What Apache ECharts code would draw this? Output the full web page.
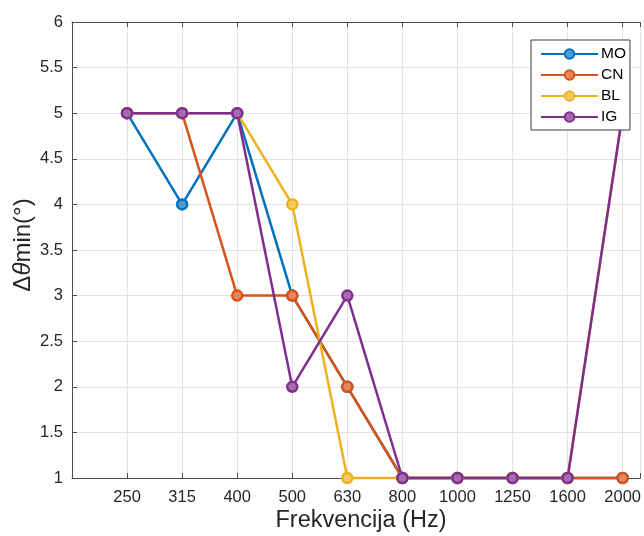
<!DOCTYPE html>
<html><head><meta charset="utf-8">
<script src="https://cdn.jsdelivr.net/npm/echarts@6/dist/echarts.min.js"></script>
<style>html,body{margin:0;padding:0;background:#fff}#c{width:644px;height:536px}</style>
</head><body><div id="c"></div>
<script>
const categories = ['250','315','400','500','630','800','1000','1250','1600','2000'];
const MO = [5,4,5,3,2,1,1,1,1,1];
const CN = [5,5,3,3,2,1,1,1,1,1];
const BL = [5,5,5,4,1,1,1,1,1,5];
const IG = [5,5,5,2,3,1,1,1,1,5];
const seriesNames = ['MO','CN','BL','IG'];
const seriesColors = ['#0072BD','#D95319','#EDB120','#7E2F8E'];
const seriesData = [MO,CN,BL,IG];

function tint(hex, f){
  const n = parseInt(hex.slice(1),16);
  const r=(n>>16)&255, g=(n>>8)&255, b=n&255;
  const m = c => Math.round(c + (255-c)*f);
  return 'rgb('+m(r)+','+m(g)+','+m(b)+')';
}

const chart = echarts.init(document.getElementById('c'));
const axisCol = '#262626';
const font = 'Liberation Sans, Arial, Helvetica';
const xBase = {
  type:'value', min:0, max:10.32, interval:1,
  axisLine:{show:true,lineStyle:{color:'#4d4d4d',width:1}},
  axisTick:{show:true,inside:true,length:5,lineStyle:{color:'#4d4d4d'}},
  splitLine:{show:false}
};
chart.setOption({
  animation:false,
  backgroundColor:'#fff',
  grid:{left:72, top:22, width:572, height:456},
  xAxis:[
    Object.assign({}, xBase, {
      position:'bottom',
      axisLabel:{show:true, color:axisCol, fontSize:16.5, fontFamily:font, margin:11,
        formatter:v => (Number.isInteger(v) && v>=1 && v<=categories.length) ? categories[v-1] : ''},
      splitLine:{show:true, lineStyle:{color:'#e3e3e3',width:1}}
    }),
    Object.assign({}, xBase, {position:'top', axisLabel:{show:false}})
  ],
  yAxis:{
    type:'value', min:1, max:6, interval:0.5,
    axisLine:{show:true,lineStyle:{color:'#4d4d4d',width:1}},
    axisTick:{show:true,inside:true,length:5,lineStyle:{color:'#4d4d4d'}},
    axisLabel:{color:axisCol, fontSize:16.5, fontFamily:font, margin:9},
    splitLine:{show:true,lineStyle:{color:'#e3e3e3',width:1}}
  },
  legend:{
    data:seriesNames, orient:'vertical', left:531, top:40,
    itemWidth:57, itemHeight:12, itemGap:5,
    backgroundColor:'#fff', borderColor:'#3a3a3a', borderWidth:1, borderRadius:0,
    padding:[6,4,5,9],
    textStyle:{color:'#000', fontSize:15.5, fontFamily:font, width:29, padding:[0,0,0,-2]}
  },
  graphic:[
    {type:'text', x:361, y:521, style:{text:'Frekvencija (Hz)', align:'center', verticalAlign:'middle', fontSize:23.5, fontFamily:font, fill:axisCol}},
    {type:'text', x:23, y:245, rotation:Math.PI/2, style:{text:'{a|Δ}{b|θ}{a|min(°)}', align:'center', verticalAlign:'middle', fill:axisCol,
      rich:{a:{fontSize:24, fontFamily:font, fill:axisCol}, b:{fontSize:24, fontFamily:font, fontStyle:'italic', fill:axisCol}}}}
  ],
  series: seriesData.map((d,i)=>({
    name:seriesNames[i], type:'line', xAxisIndex:0,
    data:d.map((v,j)=>[j+1,v]),
    color:seriesColors[i],
    lineStyle:{width:2.5,color:seriesColors[i]},
    symbol:'circle', symbolSize:10,
    itemStyle:{color:tint(seriesColors[i],0.3), borderColor:seriesColors[i], borderWidth:2.5},
    clip:false
  }))
});
</script></body></html>
